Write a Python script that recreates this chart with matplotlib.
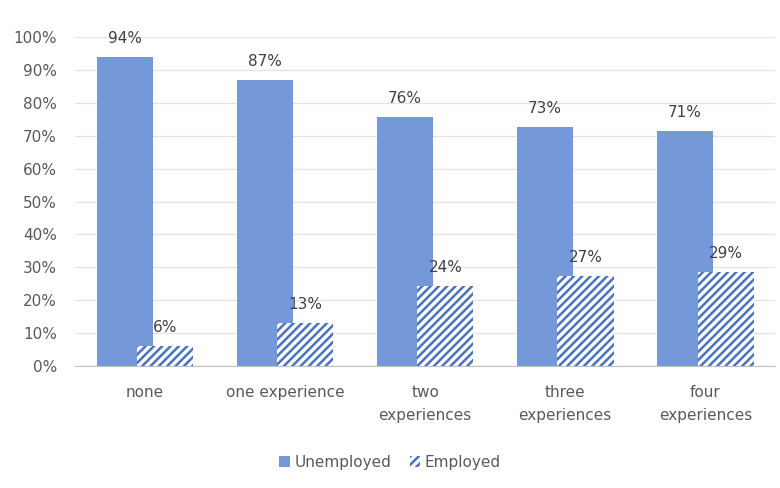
import matplotlib
matplotlib.use("Agg")
import matplotlib.pyplot as plt
import numpy as np

categories = ["none", "one experience", "two\nexperiences", "three\nexperiences", "four\nexperiences"]
unemployed = [94, 87, 75.6, 72.6, 71.4]
employed = [6, 13, 24.4, 27.4, 28.6]
series_names = ["Unemployed", "Employed"]

plt.rcParams['font.family'] = ['DejaVu Sans']
plt.rcParams['hatch.linewidth'] = 1.8

fig = plt.figure(figsize=(7.8, 4.88), dpi=100)
ax = fig.add_axes([0.096, 0.25, 0.898, 0.674])

x = np.arange(len(categories))
w = 0.4
off = 0.145
blue = "#7598D8"
hatch_col = "#4A72C0"
fs = 11

b1 = ax.bar(x - off, unemployed, w, color=blue, zorder=2, label=series_names[0])
b2 = ax.bar(x + off, employed, w, facecolor="white", edgecolor=hatch_col, hatch="////",
            linewidth=0, zorder=3, label=series_names[1])

for xi, v in zip(x, unemployed):
    ax.annotate(f"{round(v)}%", (xi - off, v), xytext=(0, 8), textcoords="offset points",
                ha="center", va="bottom", fontsize=fs, color="#404040")
for xi, v in zip(x, employed):
    ax.annotate(f"{round(v)}%", (xi + off, v), xytext=(0, 8), textcoords="offset points",
                ha="center", va="bottom", fontsize=fs, color="#404040")

ax.set_ylim(0, 100)
ax.set_xlim(-0.5, len(categories) - 0.5)
ax.set_yticks(np.arange(0, 101, 10))
ax.set_yticklabels([f"{t}%" for t in range(0, 101, 10)])
ax.set_xticks(x)
ax.set_xticklabels(categories, linespacing=1.65)
ax.tick_params(axis="both", length=0, labelsize=fs, colors="#595959")
ax.tick_params(axis="y", pad=13)
ax.tick_params(axis="x", pad=14)
ax.yaxis.grid(True, color="#E3E3E3", linewidth=0.9, zorder=0)
ax.set_axisbelow(True)
for s in ["top", "right", "left"]:
    ax.spines[s].set_visible(False)
ax.spines["bottom"].set_color("#BFBFBF")
ax.spines["bottom"].set_zorder(4)

fig.legend(handles=[b1, b2], labels=series_names, loc="center", bbox_to_anchor=(0.5, 0.053),
           ncol=2, frameon=False, fontsize=fs, handlelength=0.7, handleheight=0.7,
           handletextpad=0.3, columnspacing=1.2, labelcolor="#595959")

fig.savefig("out.png", dpi=100)
